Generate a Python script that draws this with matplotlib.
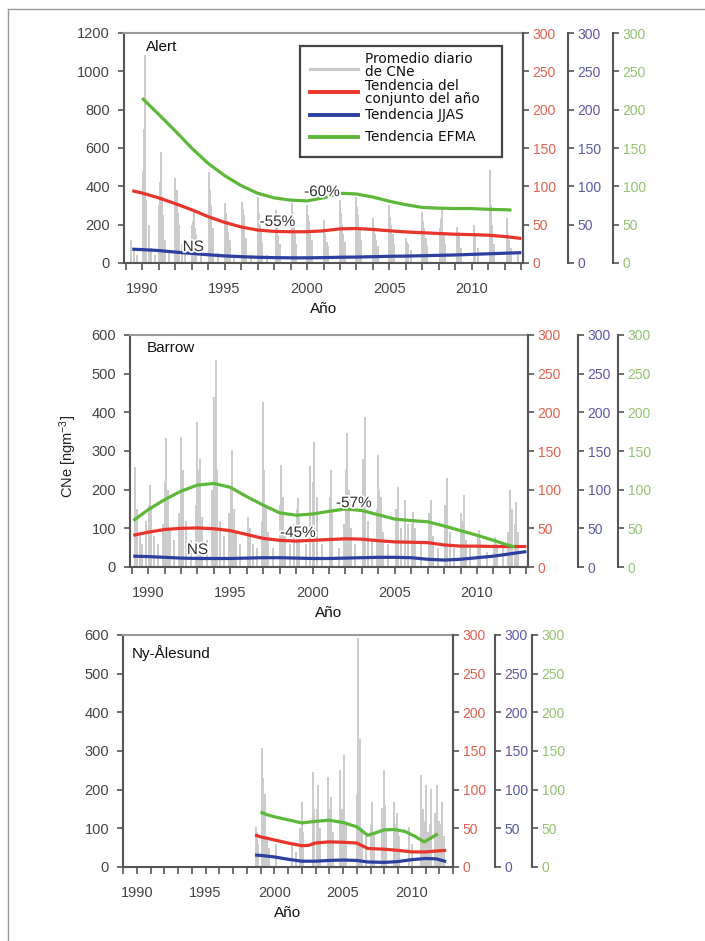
import matplotlib
matplotlib.use("Agg")
import matplotlib.pyplot as plt
from matplotlib.lines import Line2D
from matplotlib.patches import Rectangle
import matplotlib.patheffects as pe

plt.rcParams['font.family'] = ['Liberation Sans', 'DejaVu Sans']
plt.rcParams['mathtext.fontset'] = 'custom'
plt.rcParams['mathtext.rm'] = 'Liberation Sans'
plt.rcParams['mathtext.it'] = 'Liberation Sans:italic'

# ---------------- data ----------------
# Alert daily averages (main spikes): times and values (ng m-3)
alert_gray_t = [1989.3, 1989.5, 1990.05, 1990.15, 1990.25, 1990.4, 1991.05, 1991.12, 1991.25, 1991.4,
                1992.0, 1992.1, 1992.25, 1992.4, 1993.05, 1993.12, 1993.25, 1994.05, 1994.15, 1994.3,
                1995.05, 1995.15, 1995.3, 1996.05, 1996.15, 1996.3, 1997.05, 1997.15, 1997.3,
                1998.1, 1998.2, 1998.35, 1999.1, 1999.2, 1999.35, 2000.0, 2000.12, 2000.3,
                2001.0, 2001.12, 2001.3, 2002.0, 2002.12, 2002.3, 2003.0, 2003.12, 2003.3,
                2004.0, 2004.12, 2004.3, 2005.0, 2005.12, 2005.3, 2006.0, 2006.12, 2006.3,
                2007.0, 2007.12, 2007.3, 2008.05, 2008.2, 2008.35, 2009.1, 2009.2, 2009.35,
                2010.1, 2010.2, 2010.35, 2011.1, 2011.2, 2011.35, 2012.1, 2012.2, 2012.35, 2012.8]
alert_gray_v = [120, 60, 480, 1085, 330, 200, 300, 581, 250, 120,
                442, 380, 200, 100, 200, 277, 150, 476, 300, 180,
                311, 220, 120, 320, 250, 130, 346, 200, 110,
                277, 190, 100, 311, 200, 100, 300, 220, 120,
                224, 150, 90, 329, 200, 110, 346, 250, 120,
                233, 150, 90, 303, 200, 100, 130, 100, 70,
                268, 180, 90, 180, 285, 100, 190, 140, 80,
                198, 150, 80, 485, 200, 100, 235, 150, 80, 60]
# Alert daily averages (secondary spikes)
alert_gray2_t = [1989.7, 1990.1, 1990.2, 1990.55, 1990.8, 1991.08, 1991.18, 1991.6, 1992.05, 1992.18,
                 1992.6, 1993.08, 1993.18, 1993.6, 1994.1, 1994.2, 1994.6, 1995.1, 1995.2, 1995.6,
                 1996.1, 1996.2, 1996.6, 1997.1, 1997.2, 1997.6, 1998.15, 1998.25, 1999.15, 1999.25,
                 2000.06, 2000.2, 2001.06, 2001.2, 2002.06, 2002.2, 2003.06, 2003.2, 2004.06, 2004.2,
                 2005.06, 2005.2, 2006.06, 2007.06, 2007.2, 2008.12, 2008.28, 2009.15, 2010.15,
                 2011.15, 2011.25, 2012.15, 2012.25]
alert_gray2_v = [40, 700, 600, 80, 40, 420, 350, 60, 300, 260,
                 50, 220, 180, 50, 380, 220, 50, 260, 160, 40,
                 280, 180, 40, 260, 160, 40, 220, 140, 260, 150,
                 250, 150, 180, 110, 260, 150, 290, 180, 190, 120,
                 240, 150, 110, 220, 130, 230, 150, 160, 170,
                 300, 150, 190, 120]
# Alert trends (right-axis units, 0-300)
alert_trend_t = [1989.4, 1990, 1991, 1992, 1993, 1994, 1995, 1996, 1997, 1998, 1999, 2000, 2001,
                 2002, 2003, 2004, 2005, 2006, 2007, 2008, 2009, 2010, 2011, 2012, 2013]
alert_red = [94.25, 91.25, 85, 77.5, 69.5, 60.5, 53, 47, 43, 41.25, 40.75, 40.75, 42,
             44.5, 45, 43.75, 42, 40.5, 39.5, 38.5, 37.5, 37, 36.25, 34.5, 32]
alert_blue = [18, 17.5, 16.25, 14.25, 12.5, 10.75, 9.25, 8.25, 7.5, 7, 6.75, 6.75, 7,
              7.5, 7.75, 8.25, 8.75, 9, 9.5, 10, 10.5, 11.25, 12, 12.75, 13.5]
alert_green_t = [1990, 1991, 1992, 1993, 1994, 1995, 1996, 1997, 1998, 1999, 2000, 2001,
                 2002, 2003, 2004, 2005, 2006, 2007, 2008, 2009, 2010, 2011, 2012, 2012.4]
alert_green = [215, 194, 172.5, 150, 130, 114, 101, 91, 85, 82, 81, 85,
               91, 90, 86, 80.5, 76, 72.5, 71.5, 71, 71, 70, 69.5, 69]

# Barrow
barrow_gray_t = [1989.2, 1989.3, 1989.5, 1990.1, 1990.2, 1990.35, 1991.1, 1991.2, 1991.35,
                 1992.0, 1992.15, 1992.3, 1993.0, 1993.15, 1993.3, 1994.0, 1994.1, 1994.2, 1994.35,
                 1995.1, 1995.2, 1995.35, 1996.1, 1996.2, 1996.35, 1997.0, 1997.15, 1997.3,
                 1998.1, 1998.2, 1998.35, 1999.1, 1999.2, 1999.85, 2000.1, 2000.25,
                 2001.1, 2001.2, 2002.1, 2002.2, 2002.35, 2003.1, 2003.2, 2003.35,
                 2004.0, 2004.15, 2004.3, 2005.2, 2005.35, 2005.6, 2006.1, 2006.2,
                 2007.1, 2007.2, 2007.35, 2008.1, 2008.2, 2008.35, 2009.1, 2009.2, 2009.35,
                 2010.1, 2010.2, 2011.1, 2011.2, 2012.0, 2012.15, 2012.4, 2012.5]
barrow_gray_v = [259, 150, 80, 212, 150, 80, 333, 200, 100,
                 337, 250, 120, 376, 280, 130, 440, 535, 250, 120,
                 303, 150, 90, 130, 100, 60, 427, 160, 90,
                 265, 180, 90, 178, 130, 260, 324, 180,
                 251, 150, 346, 200, 100, 250, 389, 120,
                 290, 180, 90, 208, 100, 173, 143, 100,
                 120, 173, 80, 150, 229, 90, 120, 186, 70,
                 96, 70, 78, 60, 199, 120, 169, 90]
barrow_gray2_t = [1989.6, 1989.9, 1990.05, 1990.6, 1990.9, 1991.05, 1991.6, 1991.9, 1992.05, 1992.6,
                  1992.9, 1993.05, 1993.6, 1993.9, 1994.05, 1994.6, 1994.9, 1995.05, 1995.6, 1996.05,
                  1996.6, 1996.9, 1997.05, 1997.6, 1998.05, 1998.6, 1998.9, 1999.05, 1999.6, 2000.05,
                  2000.6, 2001.05, 2001.6, 2001.9, 2002.05, 2002.6, 2003.05, 2003.6, 2003.9, 2004.05,
                  2004.6, 2005.05, 2005.8, 2006.05, 2006.6, 2007.05, 2007.6, 2008.05, 2008.6, 2009.05,
                  2009.6, 2010.05, 2010.6, 2011.05, 2011.6, 2011.9, 2012.1, 2012.3]
barrow_gray2_v = [60, 120, 160, 60, 110, 220, 70, 140, 250, 70,
                  160, 250, 70, 200, 320, 80, 140, 200, 60, 90,
                  50, 120, 250, 50, 160, 60, 110, 150, 60, 220,
                  60, 180, 50, 110, 250, 60, 280, 70, 150, 200,
                  60, 150, 110, 110, 60, 140, 50, 160, 50, 140,
                  50, 80, 40, 60, 50, 90, 150, 110]
barrow_trend_t = [1989.1, 1990, 1991, 1992, 1993, 1994, 1995, 1996, 1997, 1998, 1999, 2000, 2001,
                  2002, 2003, 2004, 2005, 2006, 2007, 2008, 2009, 2010, 2011, 2012, 2013]
barrow_red = [41, 45, 48.5, 50, 50.5, 49.5, 47, 42, 37, 34.5, 33.5, 34.5, 35.5,
              36.5, 36, 34, 32.5, 32, 31.5, 28.5, 27, 27, 26.5, 26.5, 26.5]
barrow_blue = [14, 13.5, 12.5, 11.5, 11, 11, 11, 11.5, 12, 12, 11.5, 11, 11,
               11.5, 12, 12.5, 12.5, 12, 10, 9, 10, 12, 14, 17, 20]
barrow_green_t = [1989.1, 1990, 1991, 1992, 1993, 1994, 1995, 1996, 1997, 1998, 1999, 2000, 2001,
                  2002, 2003, 2004, 2005, 2006, 2007, 2008, 2009, 2010, 2011, 2012, 2012.3]
barrow_green = [60, 74, 87, 98, 106, 108, 103, 91, 80, 70, 67, 68.5, 72,
                75, 73, 67.5, 62, 60, 58.5, 53, 47, 41, 34.5, 27.5, 26]

# Ny-Alesund
ny_gray_t = [1998.7, 1998.8, 1999.1, 1999.2, 1999.3, 1999.45, 2000.1, 2001.3, 2001.9, 2002.0, 2002.1,
             2002.8, 2002.9, 2003.2, 2003.3, 2003.9, 2004.1, 2004.25, 2004.8, 2005.1, 2005.25,
             2006.0, 2006.1, 2006.2, 2006.35, 2006.7, 2007.1, 2007.25, 2007.8, 2008.0, 2008.15,
             2008.7, 2008.9, 2009.1, 2009.8, 2010.0, 2010.7, 2011.0, 2011.15, 2011.4, 2011.8,
             2012.0, 2012.2, 2012.35]
ny_gray_v = [104, 60, 307, 230, 190, 80, 60, 60, 100, 169, 90,
             246, 150, 212, 100, 234, 182, 90, 251, 290, 120,
             190, 591, 330, 100, 80, 169, 90, 152, 251, 100,
             169, 140, 80, 104, 60, 238, 212, 90, 202, 212,
             120, 168, 80]
ny_gray2_t = [1998.75, 1999.15, 1999.25, 1999.6, 2001.6, 2002.05, 2002.85, 2003.1, 2003.95, 2004.05,
              2004.9, 2005.05, 2006.05, 2006.15, 2007.0, 2007.9, 2008.05, 2008.8, 2009.0, 2010.8,
              2010.9, 2011.3, 2011.7, 2012.1]
ny_gray2_v = [90, 150, 120, 50, 40, 120, 130, 150, 150, 120,
              150, 180, 150, 200, 110, 110, 160, 110, 90, 150,
              120, 110, 140, 110]
ny_red_t = [1998.6, 1999, 2000, 2001, 2002, 2002.5, 2003, 2004, 2005, 2006, 2006.8, 2008, 2009,
            2010, 2011, 2012, 2012.5]
ny_red = [41.5, 39, 35, 31, 27.5, 28, 31, 32.5, 32, 31, 24, 23, 21.5, 19.5, 19.5, 21, 21.5]
ny_blue_t = [1998.6, 1999, 2000, 2001, 2002, 2003, 2004, 2005, 2006, 2006.8, 2008, 2009, 2010,
             2011, 2011.8, 2012.5]
ny_blue = [15.5, 15, 13, 10, 7.5, 7.5, 8.5, 9, 8.5, 6.5, 6, 7, 9.5, 11, 10.5, 7]
ny_green_t = [1999.0, 1999.5, 2000, 2001, 2002, 2003, 2004, 2005, 2006, 2006.8, 2007.5, 2008,
              2008.7, 2009.5, 2010.2, 2010.9, 2011.4, 2011.9]
ny_green = [71, 67.5, 65, 61, 57, 59, 60.5, 57.5, 52, 41, 45, 48, 48.5, 46, 40, 32.5, 37.5, 43]

year_ticks = [1990, 1995, 2000, 2005, 2010]
right_ticks = [0, 50, 100, 150, 200, 250, 300]
legend_labels = ["Promedio diario\nde CNe", "Tendencia del\nconjunto del año",
                 "Tendencia JJAS", "Tendencia EFMA"]

# ---------------- style ----------------
GRAY = '#cbcbcb'
RED = '#e8342b'
BLUE = '#2b3f9e'
GREEN = '#5db83a'
RED_T = '#e2604f'
BLUE_T = '#5a5aa6'
GREEN_T = '#93c273'
SPINE = '#555555'
TXT = '#444444'

W, H = 705, 941
fig = plt.figure(figsize=(W / 100, H / 100), dpi=100)


def px_rect(l, r, t, b):
    return [l / W, 1 - b / H, (r - l) / W, (b - t) / H]


def panel(rect, xlim, ymax, yticks, gray_sets, red_t, red_v, blue_t, blue_v, green_t, green_v,
          blue_pos, green_pos, name, name_xy):
    ax = fig.add_axes(rect)
    for gt, gv in gray_sets:
        ax.vlines(gt, 0, gv, color=GRAY, lw=1.4, zorder=1)
    ax.set_xlim(*xlim)
    ax.set_ylim(0, ymax)
    ax.set_yticks(yticks)
    ax.set_xticks(year_ticks)
    ax.set_xticks(range(1989, 2014), minor=True)
    for s in ax.spines.values():
        s.set_color(SPINE)
        s.set_linewidth(1.5)
    ax.spines['top'].set_color('#9a9a9a')
    ax.tick_params(axis='y', direction='out', length=4, width=1.2, color=SPINE,
                   labelsize=10.5, labelcolor=TXT, pad=6)
    ax.tick_params(axis='x', which='both', direction='out', length=5, width=1.2, color=SPINE,
                   labelsize=10.5, labelcolor=TXT, pad=9)
    ax.tick_params(axis='y', right=False)
    ax.set_xlabel('Año', fontsize=11, color='#111111', labelpad=4)
    ax.text(name_xy[0], name_xy[1], name, transform=ax.transAxes, fontsize=11,
            ha='left', va='center', color='#111111')

    axr = ax.twinx()
    axr.set_ylim(0, 300)
    axr.set_yticks(right_ticks)
    for k in ['left', 'top', 'bottom']:
        axr.spines[k].set_visible(False)
    axr.spines['right'].set_color(SPINE)
    axr.spines['right'].set_linewidth(1.5)
    axr.tick_params(axis='y', direction='out', length=4, width=1.2, color=SPINE,
                    labelsize=10, labelcolor=RED_T, pad=3)
    axr.plot(red_t, red_v, color=RED, lw=2.3, solid_capstyle='butt')

    out = [axr]
    for pos, col, tcol, tt, vv in [(blue_pos, BLUE, BLUE_T, blue_t, blue_v),
                                   (green_pos, GREEN, GREEN_T, green_t, green_v)]:
        a = ax.twinx()
        a.set_ylim(0, 300)
        a.set_yticks(right_ticks)
        for k in ['left', 'top', 'bottom']:
            a.spines[k].set_visible(False)
        a.spines['right'].set_position(('axes', pos))
        a.spines['right'].set_color(SPINE)
        a.spines['right'].set_linewidth(1.5)
        a.tick_params(axis='y', direction='out', length=4, width=1.2, color=SPINE,
                      labelsize=10, labelcolor=tcol, pad=3)
        a.plot(tt, vv, color=col, lw=2.3, solid_capstyle='butt')
        out.append(a)
    return ax, out


halo = [pe.withStroke(linewidth=2.5, foreground='white')]

# Panel 1: Alert
P1 = (124, 523, 33, 263)
ax1, tw1 = panel(px_rect(*P1), (1988.9, 2013.1), 1200, range(0, 1201, 200),
                 [(alert_gray2_t, alert_gray2_v), (alert_gray_t, alert_gray_v)],
                 alert_trend_t, alert_red, alert_trend_t, alert_blue,
                 alert_green_t, alert_green, (568 - 124) / 399, (613 - 124) / 399,
                 'Alert', (0.055, 0.94))
top1 = tw1[-1]
for s, x, y in [('-60%', 2000.9, 370), ('-55%', 1998.2, 214), ('NS', 1993.1, 83)]:
    top1.text(x, y, s, transform=ax1.transData, fontsize=11, color='#333333',
              ha='center', va='center', path_effects=halo, zorder=10)


# manual legend box (pixel positions inside panel 1)
def p1(xp, yp):
    return ((xp - P1[0]) / (P1[1] - P1[0]), (P1[3] - yp) / (P1[3] - P1[2]))


bx0, by0 = p1(300, 157)
bx1, by1 = p1(502, 46)
top1.add_patch(Rectangle((bx0, by0), bx1 - bx0, by1 - by0, transform=ax1.transAxes,
                         facecolor='white', edgecolor='#444444', lw=1.6, zorder=20, clip_on=False))
leg_cols = [GRAY, RED, BLUE, GREEN]
leg_lw = [2.3, 2.8, 2.8, 2.8]
leg_handle_y = [69, 92, 114.5, 136.5]
leg_text_y = [65.5, 92.5, 115, 137]
for lab, col, lw, hy, ty in zip(legend_labels, leg_cols, leg_lw, leg_handle_y, leg_text_y):
    xa, ya = p1(310, hy)
    xb, _ = p1(358, hy)
    top1.add_line(Line2D([xa, xb], [ya, ya], color=col, lw=lw, transform=ax1.transAxes,
                         zorder=21, clip_on=False))
    xt, yt = p1(365, ty)
    top1.text(xt, yt, lab, transform=ax1.transAxes, family='DejaVu Sans', fontsize=9.8,
              color='#111111', ha='left', va='center', linespacing=0.95, zorder=22)

# Panel 2: Barrow
ax2, tw2 = panel(px_rect(130, 528, 335, 567), (1988.9, 2013.1), 600, range(0, 601, 100),
                 [(barrow_gray2_t, barrow_gray2_v), (barrow_gray_t, barrow_gray_v)],
                 barrow_trend_t, barrow_red, barrow_trend_t, barrow_blue,
                 barrow_green_t, barrow_green, (578 - 130) / 398, (618 - 130) / 398,
                 'Barrow', (0.042, 0.943))
top2 = tw2[-1]
for s, x, y in [('-57%', 2002.5, 165), ('-45%', 1999.1, 88), ('NS', 1993.0, 44)]:
    top2.text(x, y, s, transform=ax2.transData, fontsize=11, color='#333333',
              ha='center', va='center', path_effects=halo, zorder=10)

# Panel 3: Ny-Alesund
ax3, tw3 = panel(px_rect(123, 453, 635, 867), (1989.1, 2012.5), 600, range(0, 601, 100),
                 [(ny_gray2_t, ny_gray2_v), (ny_gray_t, ny_gray_v)],
                 ny_red_t, ny_red, ny_blue_t, ny_blue,
                 ny_green_t, ny_green, (495 - 123) / 330, (532 - 123) / 330,
                 'Ny-Ålesund', (0.026, 0.921))

fig.text(68 / W, 1 - 456 / H, 'CNe [ngm$^{-3}$]', rotation=90, ha='center', va='center',
         fontsize=10.5, color='#222222')

# outer frame lines
fig.add_artist(Line2D([8 / W, 8 / W], [0, 1 - 9 / H], color='#9a9a9a', lw=1.0, transform=fig.transFigure))
fig.add_artist(Line2D([8 / W, 1], [1 - 9 / H, 1 - 9 / H], color='#9a9a9a', lw=1.0, transform=fig.transFigure))

fig.savefig('out.png', dpi=100)
